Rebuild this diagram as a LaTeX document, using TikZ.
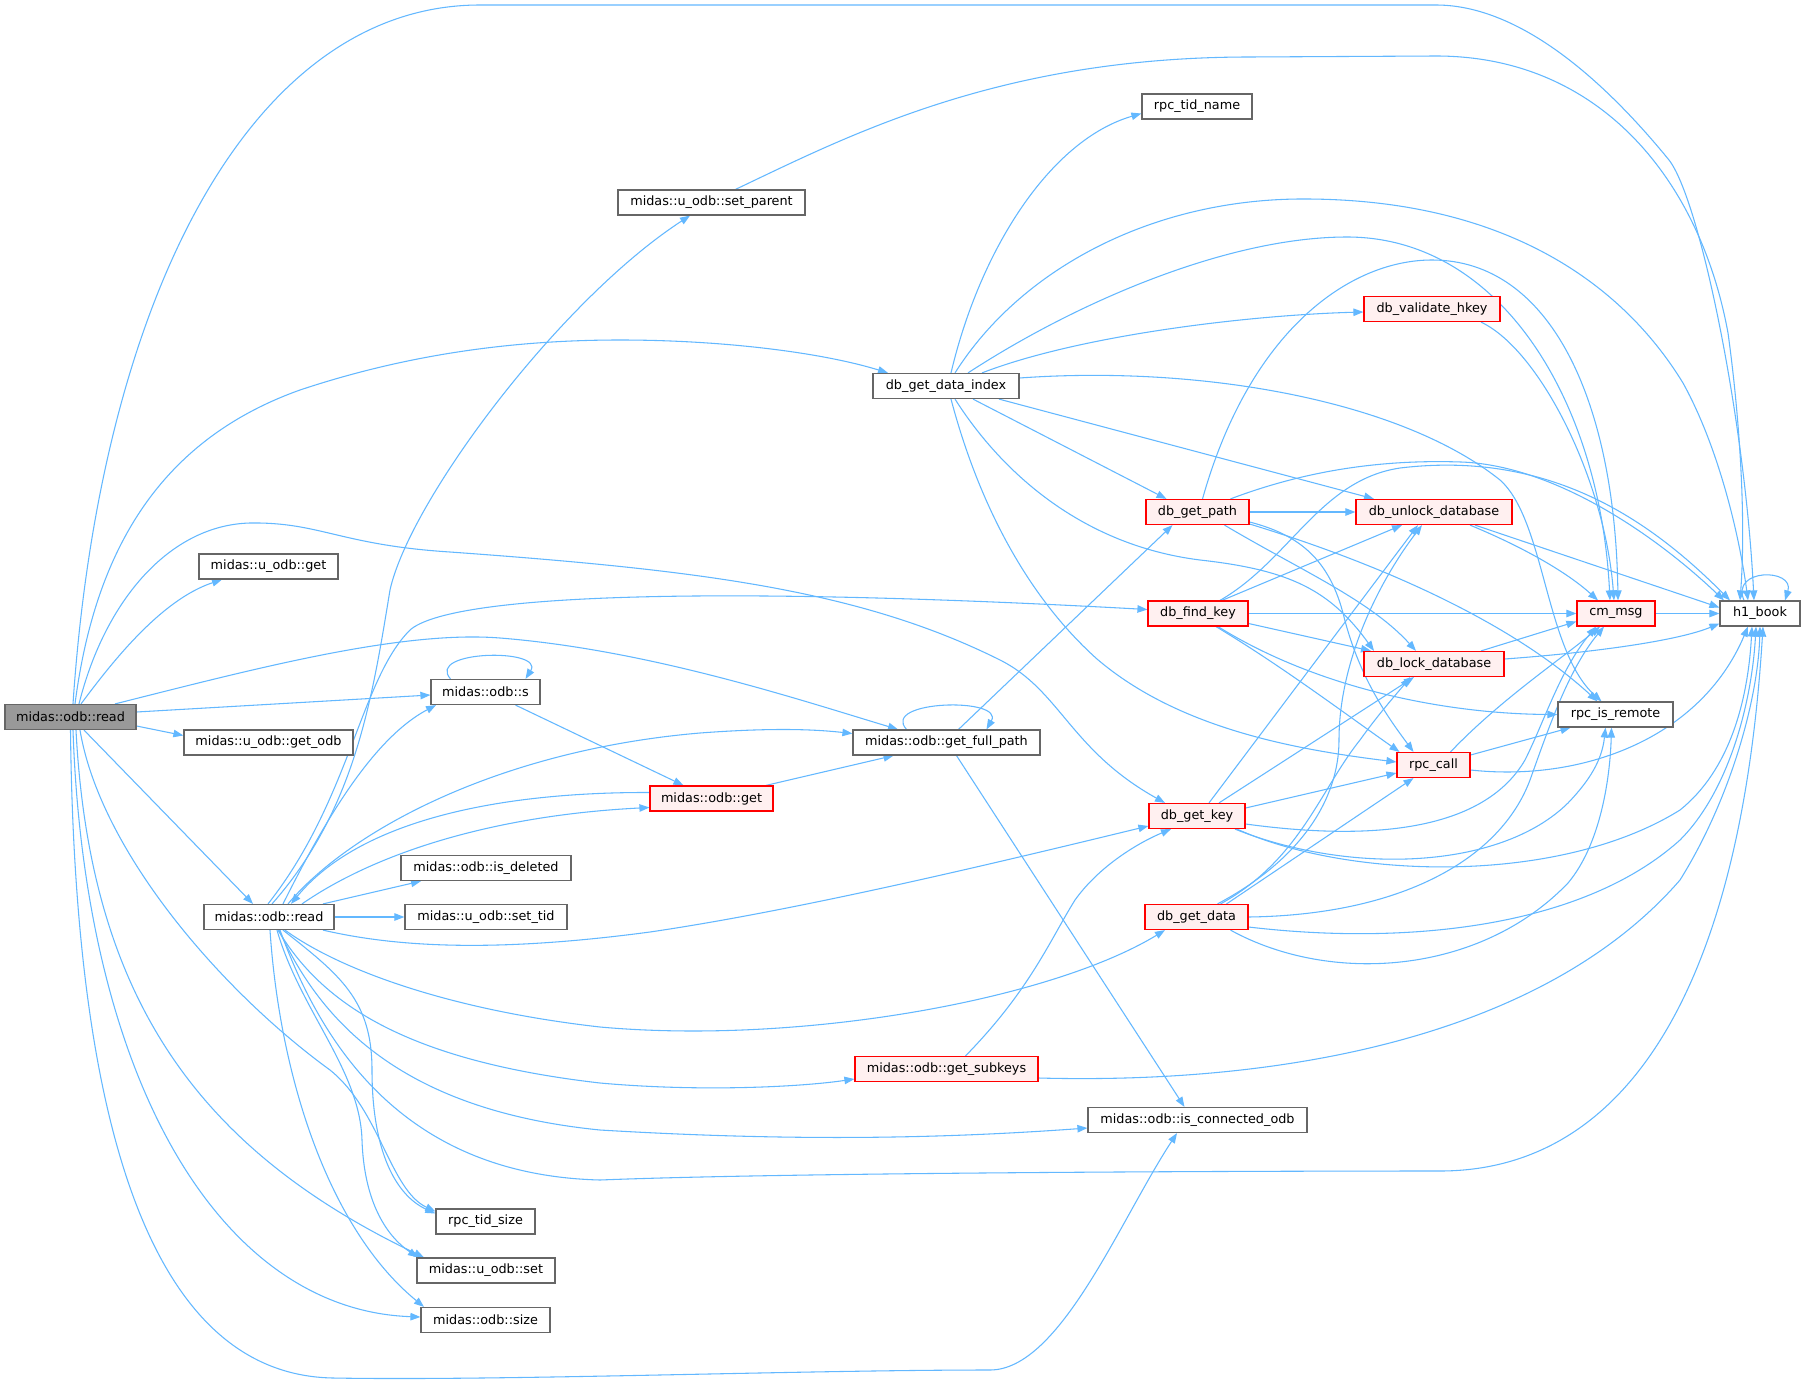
\documentclass[tikz,border=0pt]{standalone}
\usepackage{fontspec}
\setmainfont{DejaVu Sans}
\usetikzlibrary{arrows.meta}
\definecolor{edgecol}{HTML}{63B8FF}
\definecolor{boxline}{HTML}{666666}
\definecolor{redfill}{HTML}{FFF0F0}
\definecolor{rootfill}{HTML}{999999}
\pgfdeclarelayer{bg}
\pgfsetlayers{bg,main}
\tikzset{
  nbox/.style={draw=boxline, fill=white, line width=0.9pt, minimum height=18.75pt,
    inner xsep=1pt, inner ysep=0pt, font=\fontsize{9.6}{11}\selectfont, text=black},
  rbox/.style={nbox, draw=red, fill=redfill},
  gbox/.style={nbox, fill=rootfill},
  cg/.style={draw=edgecol, line width=0.8pt, -{Triangle[length=7.5pt,width=5.6pt]}}
}
\begin{document}
\begin{tikzpicture}[x=0.75pt,y=-0.75pt]
\useasboundingbox (0,0) rectangle (1803,1384);
\begin{pgfonlayer}{bg}
\fill[white] (0,0) rectangle (1803,1384);
\end{pgfonlayer}

\node[gbox, minimum width=98.25pt] (R) at (70.5,717) {midas::odb::read};
\node[nbox, minimum width=104.25pt] (uget) at (268.5,566.5) {midas::u\_odb::get};
\node[nbox, minimum width=126.75pt] (getodb) at (268.5,742.5) {midas::u\_odb::get\_odb};
\node[nbox, minimum width=97.5pt] (Q) at (269,917) {midas::odb::read};
\node[nbox, minimum width=81.75pt] (s) at (485.5,692) {midas::odb::s};
\node[nbox, minimum width=127.5pt] (isdel) at (486,868) {midas::odb::is\_deleted};
\node[nbox, minimum width=121.5pt] (settid) at (486,917) {midas::u\_odb::set\_tid};
\node[nbox, minimum width=74.25pt] (tidsize) at (485.5,1221.5) {rpc\_tid\_size};
\node[nbox, minimum width=103.5pt] (uset) at (486,1270.5) {midas::u\_odb::set};
\node[nbox, minimum width=96.75pt] (size) at (485.5,1320) {midas::odb::size};
\node[nbox, minimum width=140.25pt] (setparent) at (711.5,202.5) {midas::u\_odb::set\_parent};
\node[rbox, minimum width=92.25pt] (get) at (711.5,798.5) {midas::odb::get};
\node[nbox, minimum width=109.5pt] (dgdi) at (946,386) {db\_get\_data\_index};
\node[nbox, minimum width=140.25pt] (gfp) at (946.5,742.5) {midas::odb::get\_full\_path};
\node[rbox, minimum width=137.25pt] (subkeys) at (946.5,1069) {midas::odb::get\_subkeys};
\node[nbox, minimum width=82.5pt] (tidname) at (1197,106.5) {rpc\_tid\_name};
\node[rbox, minimum width=77.25pt] (getpath) at (1197.5,512) {db\_get\_path};
\node[rbox, minimum width=75pt] (findkey) at (1198,613.5) {db\_find\_key};
\node[rbox, minimum width=72pt] (getkey) at (1197,816) {db\_get\_key};
\node[rbox, minimum width=77.25pt] (getdata) at (1196.5,917) {db\_get\_data};
\node[nbox, minimum width=164.25pt] (isconn) at (1197.5,1120) {midas::odb::is\_connected\_odb};
\node[rbox, minimum width=102pt] (validate) at (1432,309) {db\_validate\_hkey};
\node[rbox, minimum width=117pt] (unlock) at (1434,512) {db\_unlock\_database};
\node[rbox, minimum width=105pt] (lock) at (1434,664) {db\_lock\_database};
\node[rbox, minimum width=54.75pt] (rpccall) at (1433.5,765) {rpc\_call};
\node[rbox, minimum width=58.5pt] (cmmsg) at (1616,613.5) {cm\_msg};
\node[nbox, minimum width=86.25pt] (remote) at (1615.5,714.5) {rpc\_is\_remote};
\node[nbox, minimum width=60pt] (h1book) at (1760,613.5) {h1\_book};

\begin{pgfonlayer}{bg}
% root
\draw[cg] ([shift={(2.5,0)}]R.north) .. controls (100,300) and (250,5) .. (480,5) -- (1436,5) .. controls (1530,5) and (1620,100) .. (1669,160) .. controls (1700,200) and (1745,420) .. ([shift={(-6,0)}]h1book.north);
\draw[cg] ([shift={(10.5,0)}]R.north) .. controls (110,665) and (160,600) .. ([shift={(-46.5,0)}]uget.south);
\draw[cg] ([shift={(4.5,0)}]R.north) .. controls (95,550) and (160,440) .. (300,390) .. controls (420,350) and (530,340) .. (620,340) .. controls (720,340) and (820,352) .. ([shift={(-58,0)}]dgdi.north);
\draw[cg] ([shift={(8.5,0)}]R.north) .. controls (105,600) and (170,525) .. (250,523) .. controls (320,522) and (340,545) .. (450,552) .. controls (700,570) and (860,590) .. (1000,660) .. controls (1060,690) and (1070,750) .. ([shift={(-32,0)}]getkey.north);
\draw[cg] ([shift={(44.5,0)}]R.north) .. controls (250,670) and (400,630) .. (500,638) .. controls (650,650) and (800,700) .. ([shift={(-48.5,0)}]gfp.north);
\draw[cg] ([shift={(0,-5)}]R.east) -- ([shift={(0,3)}]s.west);
\draw[cg] ([shift={(0,9)}]R.east) -- ([shift={(0,-7)}]getodb.west);
\draw[cg] ([shift={(13.5,0)}]R.south) -- ([shift={(-16,0)}]Q.north);
\draw[cg] ([shift={(9.5,0)}]R.south) .. controls (100,850) and (220,990) .. (330,1070) .. controls (380,1110) and (390,1190) .. ([shift={(0,-10)}]tidsize.west);
\draw[cg] ([shift={(5.5,0)}]R.south) .. controls (90,1000) and (200,1150) .. ([shift={(-62,0)}]uset.north);
\draw[cg] ([shift={(2.5,0)}]R.south) .. controls (85,1080) and (220,1310) .. ([shift={(0,-3)}]size.west);
\draw[cg] (R.south) .. controls (75,1150) and (160,1375) .. (333,1378) .. controls (500,1381) and (800,1370) .. (990,1370) .. controls (1060,1370) and (1120,1220) .. ([shift={(-20.5,0)}]isconn.south);
% second read
\draw[cg] ([shift={(3,0)}]Q.north) .. controls (355,810) and (372,700) .. (390,590) .. controls (410,500) and (560,300) .. ([shift={(-21.5,0)}]setparent.south);
\draw[cg] ([shift={(-1,0)}]Q.north) .. controls (350,800) and (360,680) .. (410,630) .. controls (450,595) and (700,585) .. ([shift={(0,-4)}]findkey.west);
\draw[cg] ([shift={(14,0)}]Q.north) .. controls (320,830) and (370,740) .. ([shift={(-49.5,0)}]s.south);
\draw[cg] ([shift={(19,0)}]Q.north) .. controls (350,830) and (500,750) .. (700,733) .. controls (780,727) and (820,730) .. ([shift={(0,-9)}]gfp.west);
\draw[cg] ([shift={(33,0)}]Q.north) .. controls (380,850) and (500,815) .. ([shift={(0,9)}]get.west);
\draw[cg] ([shift={(0,-6)}]get.west) .. controls (500,792) and (360,820) .. ([shift={(22,0)}]Q.north);
\draw[cg] ([shift={(54,0)}]Q.north) -- ([shift={(-65,0)}]isdel.south);
\draw[cg] (Q.east) -- (settid.west);
\draw[cg] ([shift={(14,0)}]Q.south) .. controls (340,975) and (372,1000) .. (372,1070) .. controls (372,1150) and (395,1195) .. ([shift={(0,-8)}]tidsize.west);
\draw[cg] ([shift={(8,0)}]Q.south) .. controls (300,1010) and (360,1070) .. (362,1140) .. controls (364,1200) and (385,1235) .. ([shift={(-68,0)}]uset.north);
\draw[cg] ([shift={(1,0)}]Q.south) .. controls (280,1080) and (330,1230) .. ([shift={(-61.5,0)}]size.north);
\draw[cg] ([shift={(9,0)}]Q.south) .. controls (320,1000) and (400,1060) .. (600,1083) .. controls (700,1092) and (800,1087) .. ([shift={(0,10)}]subkeys.west);
\draw[cg] ([shift={(16,0)}]Q.south) .. controls (340,970) and (450,1010) .. (600,1027) .. controls (800,1045) and (1050,1000) .. ([shift={(-31.5,0)}]getdata.south);
\draw[cg] ([shift={(10,0)}]Q.south) .. controls (320,1020) and (400,1110) .. (600,1130) .. controls (800,1142) and (950,1138) .. ([shift={(0,8)}]isconn.west);
\draw[cg] ([shift={(54,0)}]Q.south) .. controls (400,948) and (500,952) .. (650,932) .. controls (800,910) and (1000,862) .. ([shift={(0,10)}]getkey.west);
\draw[cg] ([shift={(11,0)}]Q.south) .. controls (320,1040) and (400,1175) .. (600,1180) .. controls (800,1172) and (1300,1171) .. (1440,1171) .. controls (1620,1171) and (1740,1000) .. ([shift={(3,0)}]h1book.south);
% s, get, get_full_path
\draw[cg] ([shift={(-35,0)}]s.north) .. controls (425,650) and (545,648) .. ([shift={(40,0)}]s.north);
\draw[cg] ([shift={(30,0)}]s.south) -- ([shift={(-28,0)}]get.north);
\draw[cg] ([shift={(54.5,0)}]get.north) -- ([shift={(-53,0)}]gfp.south);
\draw[cg] ([shift={(-40,0)}]gfp.north) .. controls (880,700) and (1005,697) .. ([shift={(40,0)}]gfp.north);
\draw[cg] ([shift={(12,0)}]gfp.north) -- ([shift={(-25,0)}]getpath.south);
\draw[cg] ([shift={(10,0)}]gfp.south) -- ([shift={(-13,0)}]isconn.north);
% db_get_data_index
\draw[cg] ([shift={(5,0)}]dgdi.north) .. controls (980,250) and (1050,140) .. ([shift={(0,7)}]tidname.west);
\draw[cg] ([shift={(9,0)}]dgdi.north) .. controls (1020,270) and (1150,200) .. (1300,199) .. controls (1500,198) and (1620,280) .. (1683,383) .. controls (1720,450) and (1740,540) .. ([shift={(-12,0)}]h1book.north);
\draw[cg] ([shift={(22,0)}]dgdi.north) .. controls (1080,300) and (1230,237) .. (1347,237) .. controls (1500,237) and (1600,400) .. ([shift={(-6,0)}]cmmsg.north);
\draw[cg] ([shift={(36,0)}]dgdi.north) .. controls (1080,335) and (1250,315) .. ([shift={(0,3)}]validate.west);
\draw[cg] ([shift={(0,-8)}]dgdi.east) .. controls (1200,365) and (1400,400) .. (1500,480) .. controls (1545,520) and (1545,650) .. ([shift={(-14,0)}]remote.north);
\draw[cg] ([shift={(53,0)}]dgdi.south) -- ([shift={(-60,0)}]unlock.north);
\draw[cg] ([shift={(27,0)}]dgdi.south) -- ([shift={(-31,0)}]getpath.north);
\draw[cg] ([shift={(5,0)}]dgdi.south) .. controls (975,490) and (1020,590) .. (1097,659) .. controls (1180,730) and (1300,750) .. ([shift={(0,-3)}]rpccall.west);
\draw[cg] ([shift={(9,0)}]dgdi.south) .. controls (1000,470) and (1080,545) .. (1200,560) .. controls (1290,570) and (1330,590) .. ([shift={(-60,0)}]lock.north);
% set_parent, validate
\draw[cg] ([shift={(24,0)}]setparent.north) .. controls (850,135) and (1000,57) .. (1250,57) -- (1436,56) .. controls (1600,56) and (1700,180) .. (1728,333) .. controls (1740,420) and (1746,520) .. ([shift={(-20,0)}]h1book.north);
\draw[cg] ([shift={(49,0)}]validate.south) .. controls (1540,350) and (1605,480) .. ([shift={(-2,0)}]cmmsg.north);
% db_get_path
\draw[cg] (getpath.east) -- (unlock.west);
\draw[cg] ([shift={(27,0)}]getpath.south) .. controls (1300,570) and (1370,600) .. ([shift={(-18,0)}]lock.north);
\draw[cg] ([shift={(0,10)}]getpath.east) .. controls (1300,535) and (1330,560) .. (1344,617) .. controls (1360,680) and (1390,720) .. ([shift={(-20,0)}]rpccall.north);
\draw[cg] ([shift={(0,12)}]getpath.east) .. controls (1400,570) and (1520,630) .. ([shift={(-18,0)}]remote.north);
\draw[cg] ([shift={(5,0)}]getpath.north) .. controls (1250,330) and (1350,260) .. (1432,260) .. controls (1550,260) and (1615,400) .. ([shift={(2,0)}]cmmsg.north);
\draw[cg] ([shift={(33,0)}]getpath.north) .. controls (1320,465) and (1400,460) .. (1461,462) .. controls (1550,465) and (1650,530) .. ([shift={(-36,0)}]h1book.north);
% db_find_key
\draw[cg] (findkey.east) -- (cmmsg.west);
\draw[cg] ([shift={(24,0)}]findkey.north) -- ([shift={(-32,0)}]unlock.south);
\draw[cg] ([shift={(0,10)}]findkey.east) -- ([shift={(-63,0)}]lock.north);
\draw[cg] ([shift={(18,0)}]findkey.south) .. controls (1280,665) and (1340,710) .. ([shift={(-34,0)}]rpccall.north);
\draw[cg] ([shift={(20,0)}]findkey.south) .. controls (1320,690) and (1450,714) .. (remote.west);
\draw[cg] ([shift={(22,0)}]findkey.north) .. controls (1290,560) and (1320,480) .. (1400,468) .. controls (1550,450) and (1650,520) .. ([shift={(-30,0)}]h1book.north);
% unlock, lock, rpc_call
\draw[cg] ([shift={(36,0)}]unlock.south) .. controls (1530,550) and (1570,575) .. ([shift={(-18,0)}]cmmsg.north);
\draw[cg] ([shift={(41,0)}]unlock.south) -- ([shift={(0,-6)}]h1book.west);
\draw[cg] ([shift={(47,0)}]lock.north) -- ([shift={(0,8)}]cmmsg.west);
\draw[cg] ([shift={(0,-5)}]lock.east) .. controls (1600,652) and (1680,640) .. ([shift={(0,10)}]h1book.west);
\draw[cg] ([shift={(17,0)}]rpccall.north) .. controls (1500,700) and (1560,660) .. ([shift={(-16,0)}]cmmsg.south);
\draw[cg] ([shift={(0,-10)}]rpccall.east) -- ([shift={(-45,0)}]remote.south);
\draw[cg] ([shift={(0,5)}]rpccall.east) .. controls (1580,782) and (1700,740) .. ([shift={(-12,0)}]h1book.south);
% db_get_key
\draw[cg] ([shift={(12,0)}]getkey.north) -- ([shift={(-16,0)}]unlock.south);
\draw[cg] ([shift={(22,0)}]getkey.north) -- ([shift={(-20,0)}]lock.south);
\draw[cg] ([shift={(0,-8)}]getkey.east) -- ([shift={(0,8)}]rpccall.west);
\draw[cg] ([shift={(0,8)}]getkey.east) .. controls (1400,845) and (1490,820) .. (1525,760) .. controls (1545,720) and (1560,670) .. ([shift={(-20,0)}]cmmsg.south);
\draw[cg] ([shift={(38,0)}]getkey.south) .. controls (1350,875) and (1500,870) .. (1568,803) .. controls (1590,780) and (1602,760) .. ([shift={(-10,0)}]remote.south);
\draw[cg] ([shift={(40,0)}]getkey.south) .. controls (1350,880) and (1560,885) .. (1680,810) .. controls (1730,770) and (1748,700) .. ([shift={(-8,0)}]h1book.south);
% db_get_data
\draw[cg] ([shift={(21,0)}]getdata.north) .. controls (1300,860) and (1339,800) .. (1339,740) .. controls (1339,660) and (1380,580) .. ([shift={(-12,0)}]unlock.south);
\draw[cg] ([shift={(24,0)}]getdata.north) .. controls (1300,860) and (1320,790) .. (1360,740) .. controls (1380,712) and (1400,690) .. ([shift={(-24,0)}]lock.south);
\draw[cg] ([shift={(30,0)}]getdata.north) -- ([shift={(-20,0)}]rpccall.south);
\draw[cg] (getdata.east) .. controls (1400,915) and (1500,860) .. (1530,780) .. controls (1548,730) and (1568,670) .. ([shift={(-12,0)}]cmmsg.south);
\draw[cg] ([shift={(0,10)}]getdata.east) .. controls (1400,945) and (1580,930) .. (1680,840) .. controls (1730,790) and (1752,700) .. ([shift={(-4,0)}]h1book.south);
\draw[cg] ([shift={(34,0)}]getdata.south) .. controls (1330,985) and (1480,975) .. (1568,883) .. controls (1600,845) and (1610,780) .. ([shift={(-4,0)}]remote.south);
% get_subkeys
\draw[cg] ([shift={(19,0)}]subkeys.north) .. controls (1030,990) and (1050,940) .. (1075,900) .. controls (1100,865) and (1140,842) .. ([shift={(-26,0)}]getkey.south);
\draw[cg] ([shift={(0,9)}]subkeys.east) .. controls (1300,1085) and (1550,1030) .. (1680,880) .. controls (1730,800) and (1758,700) .. (h1book.south);
% cm_msg, h1_book
\draw[cg] (cmmsg.east) -- (h1book.west);
\draw[cg] ([shift={(-16,0)}]h1book.north) .. controls (1730,568) and (1795,568) .. ([shift={(25,0)}]h1book.north);
\end{pgfonlayer}
\end{tikzpicture}
\end{document}
